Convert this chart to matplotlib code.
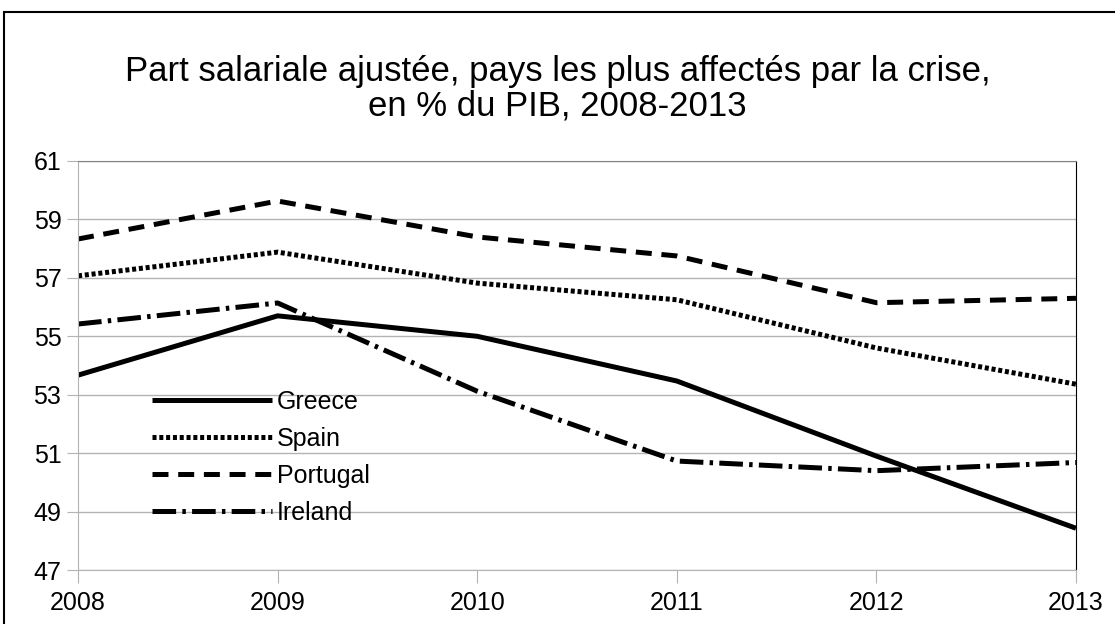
import matplotlib.pyplot as plt
from matplotlib.patches import Rectangle

plt.rcParams["font.family"] = ["Liberation Sans", "DejaVu Sans"]
plt.rcParams["lines.scale_dashes"] = False

years = [2008, 2009, 2010, 2011, 2012, 2013]
greece = [53.67, 55.7, 55.0, 53.47, 50.9, 48.43]
spain = [57.07, 57.88, 56.82, 56.25, 54.6, 53.36]
portugal = [58.33, 59.63, 58.4, 57.75, 56.15, 56.3]
ireland = [55.42, 56.14, 53.12, 50.73, 50.4, 50.68]

fig = plt.figure(figsize=(11.15, 6.24), dpi=100)
ax = fig.add_axes([0.0700, 0.0865, 0.895, 0.6555])

lw = 3.6
ax.plot(years, greece, color="black", lw=lw, label="Greece", solid_capstyle="butt")
ax.plot(years, spain, color="black", lw=lw, dashes=(2.9, 2.0), label="Spain")
ax.plot(years, portugal, color="black", lw=lw, dashes=(11.5, 7.0), label="Portugal")
ax.plot(years, ireland, color="black", lw=lw, dashes=(17, 4.5, 2.5, 4.5), label="Ireland")

ax.set_xlim(2008, 2013)
ax.set_ylim(47, 61)
ax.set_yticks(range(47, 62, 2))
ax.set_xticks(years)
ax.grid(axis="y", color="#b3b3b3", lw=1)
ax.set_axisbelow(True)
for side in ["left", "bottom", "top"]:
    ax.spines[side].set_color("#b3b3b3")
ax.spines["top"].set_color("#808080")
ax.spines["right"].set_color("black")
ax.tick_params(axis="both", colors="#b3b3b3", labelcolor="black", labelsize=18)
ax.tick_params(axis="y", length=8, pad=4)
ax.tick_params(axis="x", length=9, pad=6)

leg = ax.legend(loc="upper left", bbox_to_anchor=(0.064, 0.465), frameon=False,
                fontsize=18, handlelength=4.8, handletextpad=0.2, labelspacing=0.52,
                borderaxespad=0)

fig.text(0.5, 0.858, "Part salariale ajustée, pays les plus affectés par la crise,\nen % du PIB, 2008-2013",
         ha="center", va="center", fontsize=25, linespacing=1.05)

fig.patches.append(Rectangle((4 / 1115, -0.1), 1.2, (624 - 12) / 624 + 0.1,
                             transform=fig.transFigure, fill=False, edgecolor="black", lw=1.5))

fig.savefig("out.png", dpi=100)
